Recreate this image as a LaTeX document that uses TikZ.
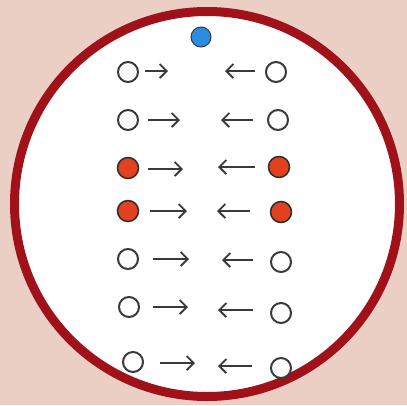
\documentclass[tikz,border=0pt]{standalone}
\usetikzlibrary{arrows.meta}
\definecolor{bgpink}{HTML}{EBCFC4}
\definecolor{rim}{HTML}{A0111A}
\definecolor{dotred}{HTML}{E2401E}
\definecolor{dotblue}{HTML}{2A8DE0}
\definecolor{ink}{HTML}{3A3A3A}
\tikzset{
  opendot/.style={circle,draw=ink,line width=2pt,fill=white,minimum size=20pt,inner sep=0pt},
  reddot/.style={circle,draw=ink!80!black,line width=1.5pt,fill=dotred,minimum size=21pt,inner sep=0pt},
  bluedot/.style={circle,draw=ink,line width=1pt,fill=dotblue,minimum size=20pt,inner sep=0pt},
  harrow/.style={draw=ink,line width=2pt,-{Straight Barb[length=7pt,width=14pt,line width=1.8pt]}}
}
\begin{document}
\begin{tikzpicture}[x=1pt,y=-1pt]
\useasboundingbox (0,0) rectangle (407,405);
\fill[bgpink] (0,0) rectangle (407,405);
\begin{scope}
\clip (0,0) rectangle (407,405);
\draw[rim,fill=white,line width=9pt] (207,204) circle (192.5);
\end{scope}
\node[bluedot] (top) at (201,37) {};
% left column
\node[opendot] (l1) at (128,72) {};
\node[opendot] (l2) at (128,120) {};
\node[reddot]  (l3) at (128,168) {};
\node[reddot]  (l4) at (128,211) {};
\node[opendot] (l5) at (128,259) {};
\node[opendot] (l6) at (129,307) {};
\node[opendot] (l7) at (133,362) {};
% right column
\node[opendot] (r1) at (276,72) {};
\node[opendot] (r2) at (278,120) {};
\node[reddot]  (r3) at (279,167) {};
\node[reddot]  (r4) at (281,212) {};
\node[opendot] (r5) at (281,262) {};
\node[opendot] (r6) at (281,313) {};
\node[opendot] (r7) at (281,368) {};
% arrows pointing right
\draw[harrow] (145,71) -- (168,71);
\draw[harrow] (148,120) -- (180,120);
\draw[harrow] (148,169) -- (183,169);
\draw[harrow] (150,211) -- (187,211);
\draw[harrow] (153,259) -- (189,259);
\draw[harrow] (153,307) -- (188,307);
\draw[harrow] (160,363) -- (195,363);
% arrows pointing left
\draw[harrow] (255,71) -- (225,71);
\draw[harrow] (253,120) -- (221,120);
\draw[harrow] (255,167) -- (218,167);
\draw[harrow] (250,211) -- (217,211);
\draw[harrow] (253,260) -- (222,260);
\draw[harrow] (253,310) -- (218,310);
\draw[harrow] (252,366) -- (218,366);
\end{tikzpicture}
\end{document}
